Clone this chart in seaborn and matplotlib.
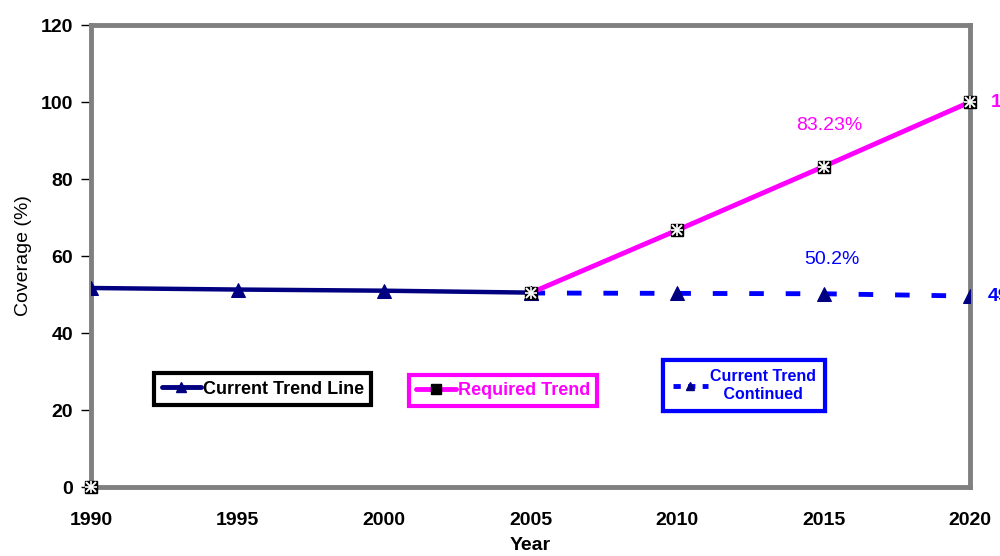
import matplotlib
matplotlib.use("Agg")
import matplotlib.pyplot as plt
import seaborn as sns
import pandas as pd
from matplotlib.lines import Line2D

sns.set_theme(style="white")
plt.rcParams['font.family'] = ['Liberation Sans', 'DejaVu Sans']

years_current = [1990, 1995, 2000, 2005]
current_trend = [51.7, 51.3, 51.0, 50.5]
years_required = [2005, 2010, 2015, 2020]
required_trend = [50.4, 66.7, 83.23, 100.0]
years_continued = [2005, 2010, 2015, 2020]
continued_trend = [50.4, 50.3, 50.2, 49.6]
origin_year = [1990]
origin_value = [0]
x_ticks = [1990, 1995, 2000, 2005, 2010, 2015, 2020]
y_ticks = [0, 20, 40, 60, 80, 100, 120]

NAVY = "#000080"
MAG = "#FF00FF"
BLUE = "#0000FF"
GRAY = "#808080"

fig = plt.figure(figsize=(10, 5.56), dpi=100)
ax = fig.add_axes([0.091, 0.124, 0.879, 0.831])

df_c = pd.DataFrame({"Year": years_current, "v": current_trend})
df_r = pd.DataFrame({"Year": years_required, "v": required_trend})
df_k = pd.DataFrame({"Year": years_continued, "v": continued_trend})

sns.lineplot(data=df_k, x="Year", y="v", ax=ax, color=BLUE, lw=3.5,
             dashes=False, linestyle=(0, (3, 4.5)), marker="^", markersize=10,
             markerfacecolor=NAVY, markeredgecolor=NAVY, zorder=3)
sns.lineplot(data=df_c, x="Year", y="v", ax=ax, color=NAVY, lw=3.2,
             marker="^", markersize=10, markerfacecolor=NAVY,
             markeredgecolor=NAVY, zorder=4)
sns.lineplot(data=df_r, x="Year", y="v", ax=ax, color=MAG, lw=3.5, zorder=5)

def star_markers(xs, ys):
    ax.plot(xs, ys, ls="none", marker="s", markersize=9, color="black",
            markeredgecolor="black", zorder=6, clip_on=False)
    ax.plot(xs, ys, ls="none", marker="x", markersize=7, color="white",
            markeredgewidth=1.4, zorder=7, clip_on=False)
    ax.plot(xs, ys, ls="none", marker="+", markersize=8, color="white",
            markeredgewidth=1.2, zorder=7, clip_on=False)

star_markers(years_required, required_trend)
star_markers(origin_year, origin_value)

ax.set_xlim(1990, 2020)
ax.set_ylim(0, 120)
ax.set_xticks(x_ticks)
ax.set_yticks(y_ticks)
ax.set_xticklabels([str(t) for t in x_ticks], fontsize=14, fontweight="bold", color="black")
ax.set_yticklabels([str(t) for t in y_ticks], fontsize=14, fontweight="bold", color="black")
ax.tick_params(axis="x", length=0, pad=18)
ax.tick_params(axis="y", length=7, width=1, color="black", direction="out", pad=6, left=True)
ax.set_xlabel("Year", fontsize=14, fontweight="bold", labelpad=6, color="black")
ax.set_ylabel("Coverage (%)", fontsize=14, labelpad=6, color="black")
for s in ax.spines.values():
    s.set_color(GRAY)
    s.set_linewidth(3.5)
    s.set_visible(True)

ax.text(2015.2, 94, "83.23%", color=MAG, fontsize=14, ha="center", va="center")
ax.text(2015.3, 59, "50.2%", color=BLUE, fontsize=14, ha="center", va="center")
ax.text(2020.7, 100, "100%", color=MAG, fontsize=14, ha="left", va="center", fontweight="bold", clip_on=False)
ax.text(2020.6, 49.6, "49.6%", color=BLUE, fontsize=14, ha="left", va="center", fontweight="bold", clip_on=False)

h1 = Line2D([], [], color=NAVY, lw=3.5, marker="^", markersize=7)
h2 = Line2D([], [], color=MAG, lw=3.5, marker="s", markersize=7, markerfacecolor="black", markeredgecolor="black")
h3 = Line2D([], [], color=BLUE, lw=3.5, linestyle=(0, (1.5, 1.5)), marker="^", markersize=6,
            markerfacecolor=NAVY, markeredgecolor=NAVY)

def add_leg(handle, label, loc_xy, edge, tcolor, size, pad):
    leg = ax.legend([handle], [label], loc="upper left", bbox_to_anchor=loc_xy,
                    frameon=True, fancybox=False, handlelength=2.2, handletextpad=0.1,
                    borderpad=pad, prop={"weight": "bold", "size": size},
                    labelcolor=tcolor, borderaxespad=0)
    fr = leg.get_frame()
    fr.set_edgecolor(edge)
    fr.set_linewidth(3)
    fr.set_alpha(1)
    ax.add_artist(leg)
    return leg

add_leg(h1, "Current Trend Line", (0.072, 0.246), "black", "black", 13, 0.4)
add_leg(h2, "Required Trend", (0.362, 0.243), MAG, MAG, 13, 0.4)
add_leg(h3, "Current Trend\n   Continued", (0.651, 0.276), BLUE, BLUE, 11.5, 0.6)

fig.savefig("out.png", dpi=100)
